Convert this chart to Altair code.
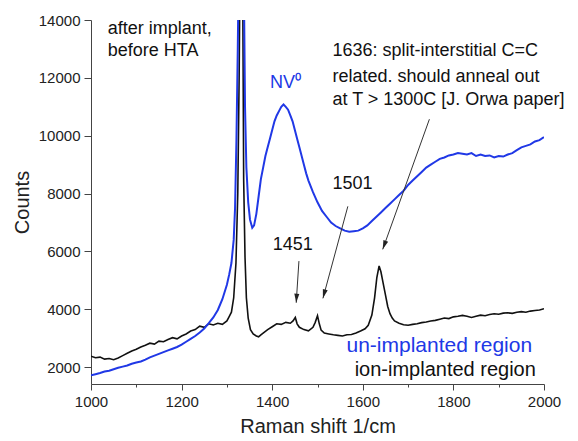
import altair as alt
import pandas as pd

# ---------------- data ----------------
# ion-implanted region (black)
black_shift = [1000, 1010, 1020, 1030, 1040, 1050, 1060, 1070, 1080, 1090,
               1100, 1110, 1120, 1130, 1140, 1150, 1160, 1170, 1180, 1190,
               1200, 1210, 1220, 1230, 1240, 1250, 1260, 1270, 1280, 1290,
               1300, 1305, 1310, 1315, 1320, 1324, 1327, 1329, 1332, 1335,
               1337, 1340, 1343, 1347, 1352, 1358, 1365, 1370, 1375, 1380,
               1390, 1400, 1410, 1420, 1430, 1440, 1446, 1451, 1455, 1460,
               1470, 1480, 1490, 1495, 1500, 1504, 1508, 1515, 1525, 1535,
               1545, 1555, 1565, 1575, 1585, 1595, 1605, 1612, 1620, 1626,
               1631, 1636, 1640, 1645, 1650, 1655, 1660, 1665, 1670, 1680,
               1690, 1700, 1710, 1720, 1730, 1740, 1750, 1760, 1770, 1780,
               1790, 1800, 1810, 1820, 1830, 1840, 1850, 1860, 1870, 1880,
               1890, 1900, 1910, 1920, 1930, 1940, 1950, 1960, 1970, 1980,
               1990, 2000]
black_counts = [2380, 2330, 2350, 2280, 2300, 2260, 2320, 2400, 2480, 2560,
                2620, 2700, 2760, 2830, 2800, 2900, 2880, 2960, 3020, 2980,
                3080, 3150, 3250, 3300, 3420, 3380, 3500, 3460, 3520, 3480,
                3600, 3750, 3900, 4400, 5600, 8000, 12000, 16000, 30000, 15000,
                8500, 5800, 4400, 3700, 3300, 3150, 3080, 3050, 3120, 3180,
                3300, 3400, 3500, 3480, 3550, 3520, 3600, 3720, 3500, 3380,
                3300, 3260, 3380, 3550, 3780, 3500, 3280, 3180, 3150, 3120,
                3100, 3080, 3120, 3130, 3180, 3250, 3330, 3450, 3800, 4400,
                5100, 5500, 5300, 4900, 4500, 4100, 3850, 3700, 3600, 3520,
                3470, 3450, 3480, 3500, 3540, 3560, 3600, 3620, 3660, 3700,
                3680, 3740, 3760, 3790, 3760, 3720, 3760, 3800, 3780, 3820,
                3850, 3830, 3870, 3880, 3860, 3900, 3920, 3900, 3940, 3960,
                3980, 4020]

# un-implanted region (blue)
blue_shift = [1000, 1010, 1020, 1030, 1040, 1050, 1060, 1070, 1080, 1090,
              1100, 1110, 1120, 1130, 1140, 1150, 1160, 1170, 1180, 1190,
              1200, 1210, 1220, 1230, 1240, 1250, 1260, 1270, 1280, 1290,
              1300, 1305, 1310, 1315, 1318, 1321, 1324, 1327, 1332, 1337,
              1340, 1343, 1347, 1351, 1356, 1360, 1365, 1370, 1375, 1380,
              1385, 1390, 1395, 1400, 1405, 1410, 1415, 1420, 1425, 1430,
              1435, 1440, 1445, 1450, 1455, 1460, 1465, 1470, 1475, 1480,
              1490, 1500, 1510, 1520, 1530, 1540, 1550, 1560, 1570, 1580,
              1590, 1600, 1610, 1620, 1630, 1640, 1650, 1660, 1670, 1680,
              1690, 1700, 1710, 1720, 1730, 1740, 1750, 1760, 1770, 1780,
              1790, 1800, 1810, 1820, 1830, 1840, 1850, 1860, 1870, 1880,
              1890, 1900, 1910, 1920, 1930, 1940, 1950, 1960, 1970, 1980,
              1990, 2000]
blue_counts = [1720, 1760, 1800, 1850, 1880, 1930, 1980, 2020, 2060, 2120,
               2160, 2200, 2260, 2340, 2400, 2460, 2520, 2580, 2640, 2700,
               2780, 2880, 2980, 3080, 3200, 3340, 3520, 3720, 3980, 4350,
               4850, 5200, 5600, 6400, 7500, 9800, 13000, 17000, 30000, 16000,
               11000, 8900, 7700, 7100, 6820, 6900, 7300, 7900, 8500, 8900,
               9300, 9600, 9900, 10200, 10500, 10700, 10850, 11000, 11080, 11000,
               10900, 10700, 10500, 10200, 9900, 9600, 9300, 9000, 8700, 8450,
               8050, 7700, 7400, 7200, 7000, 6880, 6800, 6720, 6680, 6700,
               6720, 6800, 6900, 7050, 7200, 7350, 7500, 7650, 7800, 7950,
               8100, 8300, 8450, 8600, 8750, 8900, 9000, 9100, 9200, 9250,
               9320, 9350, 9400, 9380, 9350, 9400, 9300, 9350, 9300, 9320,
               9250, 9300, 9280, 9350, 9400, 9500, 9600, 9650, 9700, 9800,
               9850, 9950]

# annotations (text, position in data units)
note_text = ["after implant,", "before HTA",
             "1636: split-interstitial C=C", "related. should anneal out",
             "at T > 1300C [J. Orwa paper]", "1501", "1451"]
note_x = [1037, 1037, 1533, 1533, 1533, 1533, 1401]
note_y = [13685, 12924, 12924, 12024, 11228, 8322, 6211]

legend_text = ["ion-implanted region"]
legend_x = [1582]
legend_y = [1896]

blue_note_text = ["NV\u2070"]
blue_note_x = [1395]
blue_note_y = [11816]

blue_legend_text = ["un-implanted region"]
blue_legend_x = [1564]
blue_legend_y = [2727]

# arrows: start -> end (data units)
arrow_x_start = [1747, 1567, 1459]
arrow_y_start = [10571, 7560, 5668]
arrow_x_end = [1644, 1512, 1453]
arrow_y_end = [6073, 4380, 4228]

x_ticks = list(range(1000, 2001, 100))
y_ticks = list(range(2000, 14001, 1000))

# ---------------- chart ----------------
FONT = "Liberation Sans"
BLUE = "#2038e6"

black_df = pd.DataFrame({"shift": black_shift, "counts": black_counts})
blue_df = pd.DataFrame({"shift": blue_shift, "counts": blue_counts})
notes_df = pd.DataFrame({"t": note_text, "x": note_x, "y": note_y})
legend_df = pd.DataFrame({"t": legend_text, "x": legend_x, "y": legend_y})
bnotes_df = pd.DataFrame({"t": blue_note_text, "x": blue_note_x, "y": blue_note_y})
blegend_df = pd.DataFrame({"t": blue_legend_text, "x": blue_legend_x, "y": blue_legend_y})
arrows_df = pd.DataFrame({"x_start": arrow_x_start, "y_start": arrow_y_start,
                          "x_end": arrow_x_end, "y_end": arrow_y_end})

xscale = alt.Scale(domain=[1000, 2000], nice=False, zero=False)
yscale = alt.Scale(domain=[1420, 14000], nice=False, zero=False)

xaxis = alt.Axis(
    title="Raman shift 1/cm", values=x_ticks,
    labelExpr="datum.value % 200 === 0 ? datum.label : ''",
    format="d", grid=False, labelFlush=False, labelOverlap=False,
    tickSize={"condition": {"test": "datum.value % 200 === 0", "value": 6}, "value": 3},
    labelFont=FONT, labelFontSize=15, labelColor="#222", labelPadding=4,
    titleFont=FONT, titleFontSize=20, titleFontWeight="normal", titleColor="#222",
    titlePadding=7, domainColor="#444", tickColor="#444",
)
yaxis = alt.Axis(
    title="Counts", values=y_ticks,
    labelExpr="datum.value % 2000 === 0 ? datum.label : ''",
    format="d", grid=False, labelFlush=False, labelOverlap=False,
    tickSize={"condition": {"test": "datum.value % 2000 === 0", "value": 7}, "value": 3},
    labelFont=FONT, labelFontSize=15, labelColor="#222", labelPadding=4,
    titleFont=FONT, titleFontSize=20, titleFontWeight="normal", titleColor="#222",
    titlePadding=6, domainColor="#444", tickColor="#444",
)

black_line = alt.Chart(black_df).mark_line(color="#111", strokeWidth=1.6, clip=True).encode(
    x=alt.X("shift:Q", scale=xscale, axis=xaxis),
    y=alt.Y("counts:Q", scale=yscale, axis=yaxis),
)
blue_line = alt.Chart(blue_df).mark_line(color=BLUE, strokeWidth=2, clip=True).encode(
    x=alt.X("shift:Q", scale=xscale),
    y=alt.Y("counts:Q", scale=yscale),
)

arrow_lines = alt.Chart(arrows_df).mark_rule(color="#333", strokeWidth=1).encode(
    x="x_start:Q", y="y_start:Q", x2="x_end:Q", y2="y_end:Q",
)
arrow_heads = alt.Chart(arrows_df).mark_point(
    shape="M0,0L-1,3.6L1,3.6Z", filled=True, color="#222", size=25, opacity=1,
    angle=alt.ExprRef(expr="(atan2(scale('x', datum.x_end) - scale('x', datum.x_start), "
                           "scale('y', datum.y_start) - scale('y', datum.y_end)) * 180 / PI + 360) % 360"),
).encode(x="x_end:Q", y="y_end:Q")

notes = alt.Chart(notes_df).mark_text(
    align="left", baseline="middle", font=FONT, fontSize=18, color="#111",
).encode(x="x:Q", y="y:Q", text="t:N")

legend_note = alt.Chart(legend_df).mark_text(
    align="left", baseline="middle", font=FONT, fontSize=20, color="#111",
).encode(x="x:Q", y="y:Q", text="t:N")

bnotes = alt.Chart(bnotes_df).mark_text(
    align="left", baseline="middle", font=FONT, fontSize=18, color=BLUE,
).encode(x="x:Q", y="y:Q", text="t:N")

blegend_note = alt.Chart(blegend_df).mark_text(
    align="left", baseline="middle", font=FONT, fontSize=21, color=BLUE,
).encode(x="x:Q", y="y:Q", text="t:N")

chart = alt.layer(black_line, blue_line, arrow_lines, arrow_heads,
                  notes, legend_note, bnotes, blegend_note).properties(
    width=453, height=364,
    autosize=alt.AutoSizeParams(type="none"),
    padding={"left": 91, "top": 20, "right": 34, "bottom": 57},
    background="white",
).configure_view(stroke=None)

chart.save("out.html", embed_options={"renderer": "svg", "actions": False})
